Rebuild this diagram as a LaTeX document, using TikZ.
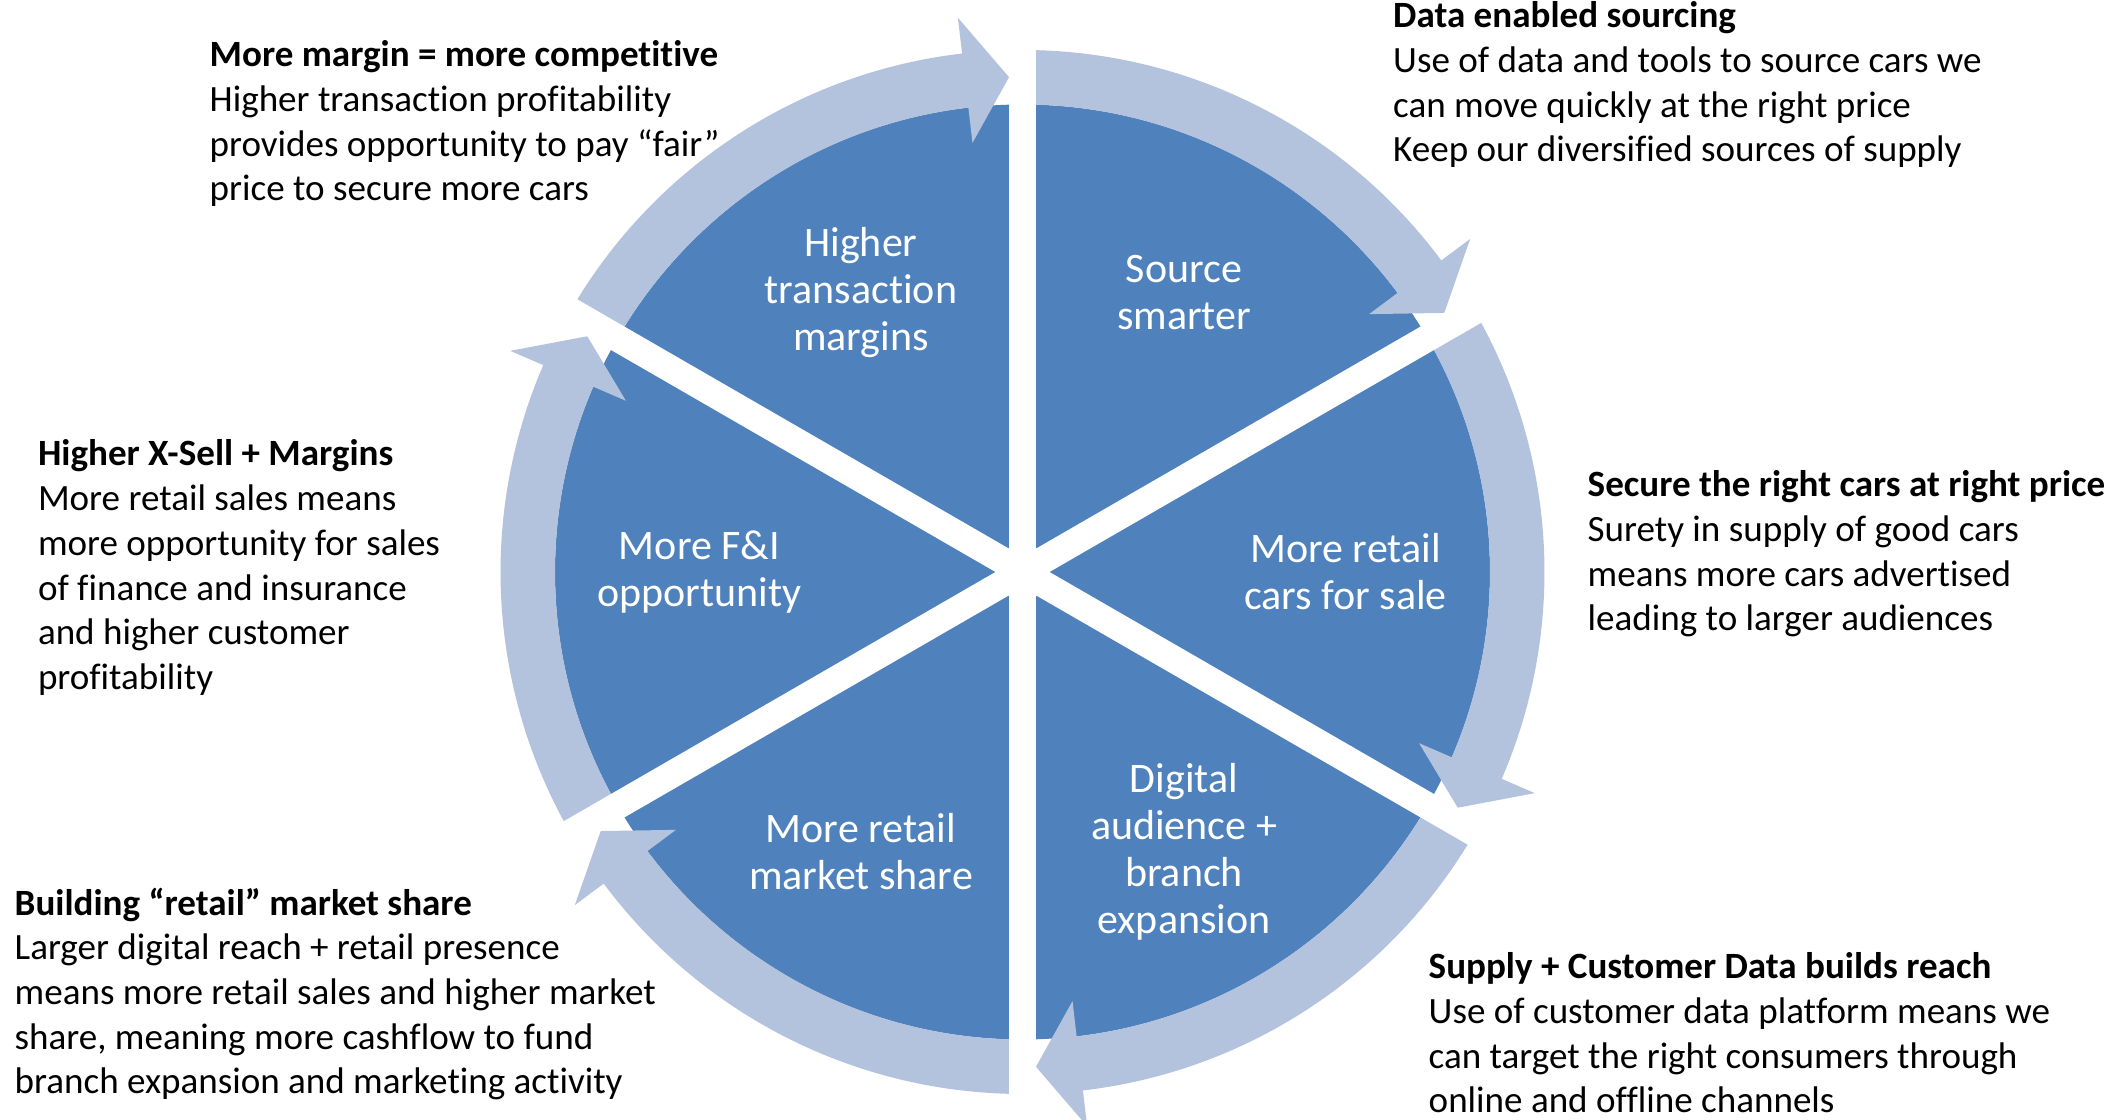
\documentclass[tikz,border=0pt]{standalone}
\usepackage{fontspec}
\setmainfont{Carlito}[Ligatures=NoCommon]
\usepackage{tikz}
\usetikzlibrary{calc}
\usetikzlibrary{positioning}

\definecolor{pieblue}{HTML}{4F81BD}
\definecolor{ringblue}{HTML}{B3C2DD}

\tikzset{
  seglabel/.style={text=white, align=center, inner sep=0pt,
    font=\fontsize{11.95pt}{13.4pt}\selectfont},
  note/.style={anchor=base west, align=left, inner sep=0pt,
    font=\fontsize{10.55pt}{12.72pt}\selectfont},
  gapline/.style={white, line width=0.27cm}
}

\begin{document}
\begin{tikzpicture}
    \useasboundingbox (0,0) rectangle (21.09,11.2);
    \begin{scope}[shift={(10.225,5.48)}]
      \fill[pieblue] (0,0) circle (4.675);
      \foreach \a in {150,90,30,-30,-90,-150} {
        \pgfmathsetmacro{\tp}{\a-58.44}
        \pgfmathsetmacro{\hb}{\a-53.35}
        \fill[ringblue] (\a:5.22) arc[start angle=\a, end angle=\hb, radius=5.22]
          -- (\hb:5.58) -- (\tp:4.95) -- (\hb:4.32) -- (\hb:4.675)
          arc[start angle=\hb, end angle=\a, radius=4.675] -- cycle;
      }
      \draw[gapline] (90:5.65) -- (-90:5.65);
      \draw[gapline] (30:5.65) -- (-150:5.65);
      \draw[gapline] (-30:5.65) -- (150:5.65);

      \node[seglabel] (margins) at (120:3.23) {Higher\\transaction\\margins};
      \node[seglabel] (source) at (60:3.23) {Source\\smarter};
      \node[seglabel] (carsale) at (0:3.23) {More retail\\cars for sale};
      \node[seglabel] (digital) at (-60:3.23) {Digital\\audience +\\branch\\expansion};
      \node[seglabel] (share) at (-120:3.23) {More retail\\market share};
      \node[seglabel] (finance) at (180:3.23) {More F\&I\\opportunity};
    \end{scope}

    % notes sit on the baseline of their last line
    \node[note] (noteMargin) at (2.09,9.19) {\textbf{More margin = more competitive}\\
      Higher transaction profitability\\provides opportunity to pay “fair”\\price to secure more cars};
    \node[note] (noteSourcing) at (13.925,9.58) {\textbf{Data enabled sourcing}\\
      Use of data and tools to source cars we\\can move quickly at the right price\\Keep our diversified sources of supply};
    \node[note] (notePrice) at (15.87,4.89) {\textbf{Secure the right cars at right price}\\
      Surety in supply of good cars\\means more cars advertised\\leading to larger audiences};
    \node[note] (noteReach) at (14.28,0.07) {\textbf{Supply + Customer Data builds reach}\\
      Use of customer data platform means we\\can target the right consumers through\\online and offline channels};
    \node[note] (noteShare) at (0.14,0.26) {\textbf{Building “retail” market share}\\
      Larger digital reach + retail presence\\means more retail sales and higher market\\share, meaning more cashflow to fund\\branch expansion and marketing activity};
    \node[note] (noteXSell) at (0.373,4.305) {\textbf{Higher X-Sell + Margins}\\
      More retail sales means\\more opportunity for sales\\of finance and insurance\\and higher customer\\profitability};
\end{tikzpicture}
\end{document}
